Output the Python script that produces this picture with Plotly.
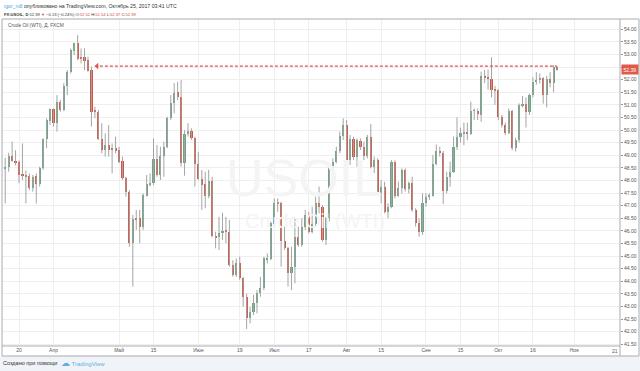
import plotly.graph_objects as go
import pandas as pd

# ---------------- data (FX:USOIL daily) ----------------
OPEN = [48.48, 48.55, 48.97, 48.79, 48.75, 48.22, 48.18, 48.18, 47.69, 48.18,
        47.85, 48.48, 49.63, 50.37, 50.82, 50.27, 51.13, 50.80, 51.75, 52.32,
        53.15, 53.44, 52.91, 52.91, 52.78, 52.38, 50.76, 50.73, 49.63, 49.21,
        49.41, 49.28, 49.28, 49.21, 48.77, 48.09, 47.56, 45.51, 46.50, 46.50,
        46.17, 47.40, 47.86, 47.91, 48.84, 48.22, 48.97, 49.34, 50.47, 51.06,
        51.52, 51.33, 48.68, 49.84, 49.98, 49.67, 48.65, 48.05, 47.86, 47.40,
        47.99, 45.80, 45.74, 45.93, 46.01, 45.97, 44.65, 44.25, 44.71, 44.12,
        43.39, 42.53, 42.80, 43.12, 43.52, 43.72, 44.87, 44.87, 46.27, 47.07,
        47.12, 45.61, 45.31, 44.32, 44.58, 45.77, 45.44, 46.14, 46.63, 45.97,
        46.27, 47.12, 46.96, 45.64, 46.50, 48.58, 48.75, 49.18, 49.77, 50.20,
        48.81, 49.63, 48.92, 49.58, 49.34, 48.97, 49.74, 48.52, 48.81, 47.52,
        47.76, 46.76, 46.96, 48.75, 47.39, 47.69, 48.42, 47.65, 47.89, 46.83,
        46.30, 45.97, 47.09, 47.36, 47.40, 48.65, 49.17, 49.10, 47.60, 48.13,
        48.35, 49.34, 49.71, 49.87, 49.94, 49.84, 50.76, 50.76, 50.60, 52.12,
        52.09, 52.01, 51.59, 51.59, 50.53, 50.20, 49.90, 50.77, 49.28, 49.60,
        50.99, 51.02, 50.73, 51.39, 51.92, 51.99, 52.05, 51.39, 52.01, 51.88,
        52.52]
HIGH = [48.90, 49.10, 49.55, 49.20, 48.80, 49.47, 48.40, 48.28, 48.22, 48.28,
        48.55, 49.67, 50.47, 50.86, 50.86, 51.39, 51.19, 51.86, 52.38, 53.24,
        53.47, 53.77, 53.24, 53.24, 52.91, 52.52, 50.93, 50.80, 50.27, 49.87,
        50.20, 49.47, 49.74, 49.34, 48.95, 48.15, 47.62, 46.63, 46.83, 46.83,
        47.49, 48.22, 48.28, 49.67, 49.41, 49.34, 49.54, 50.53, 51.39, 51.86,
        51.92, 51.99, 50.00, 50.27, 50.07, 49.74, 49.14, 48.42, 48.35, 48.42,
        48.15, 45.97, 46.56, 46.72, 46.56, 46.43, 44.84, 44.91, 44.98, 44.18,
        43.52, 42.99, 43.46, 43.65, 44.18, 44.98, 45.11, 46.37, 47.29, 47.29,
        47.16, 46.17, 45.37, 45.37, 46.50, 46.17, 46.50, 46.83, 46.76, 46.96,
        47.36, 47.76, 47.03, 46.56, 48.68, 48.88, 49.34, 49.94, 50.47, 50.40,
        49.81, 49.74, 49.67, 49.67, 49.54, 49.81, 50.24, 48.95, 48.88, 48.02,
        47.95, 47.10, 48.81, 48.80, 47.95, 48.48, 48.48, 47.95, 48.15, 46.90,
        46.50, 47.49, 47.49, 47.49, 49.01, 49.43, 49.34, 49.17, 48.35, 48.75,
        49.74, 50.51, 50.10, 50.30, 50.30, 51.13, 50.86, 50.86, 52.32, 52.38,
        52.40, 52.89, 51.75, 51.62, 50.60, 50.30, 50.86, 50.80, 49.70, 51.06,
        51.35, 51.30, 51.45, 52.10, 52.30, 52.25, 52.10, 52.15, 52.30, 52.58,
        52.54]
LOW = [47.09, 48.35, 48.75, 48.60, 47.89, 48.02, 47.09, 47.62, 47.56, 47.09,
       47.76, 48.42, 49.28, 50.20, 50.14, 49.94, 50.73, 50.75, 51.39, 52.25,
       52.98, 52.78, 52.65, 52.38, 52.32, 50.14, 50.47, 49.61, 49.08, 48.95,
       48.95, 48.28, 49.08, 48.68, 48.02, 47.36, 45.37, 43.79, 46.04, 45.51,
       46.04, 47.36, 47.76, 47.82, 48.15, 48.02, 48.15, 49.28, 50.40, 50.67,
       51.19, 48.55, 48.19, 49.74, 49.61, 47.76, 48.02, 46.83, 46.90, 47.29,
       45.74, 45.31, 45.24, 45.64, 45.51, 44.58, 44.18, 44.18, 44.05, 42.99,
       42.11, 42.33, 42.66, 42.73, 43.39, 43.65, 44.71, 44.84, 46.17, 46.76,
       44.58, 45.24, 43.79, 43.65, 43.92, 45.37, 45.37, 46.04, 45.90, 45.90,
       46.17, 46.70, 45.57, 45.44, 46.37, 48.28, 48.68, 49.08, 49.61, 48.75,
       48.62, 48.81, 48.55, 49.21, 48.81, 48.88, 48.48, 48.29, 47.50, 47.10,
       46.70, 46.50, 46.90, 47.29, 47.36, 47.49, 47.56, 47.49, 46.76, 46.17,
       45.77, 45.84, 46.96, 47.23, 47.36, 48.60, 48.95, 47.07, 47.49, 47.76,
       48.30, 49.21, 49.50, 49.40, 49.60, 49.81, 50.40, 50.40, 50.33, 51.86,
       51.60, 51.30, 51.00, 50.40, 50.10, 49.80, 49.84, 49.20, 49.15, 49.50,
       50.90, 50.10, 50.60, 51.30, 51.80, 51.85, 51.05, 50.90, 51.70, 51.50,
       52.37]
CLOSE = [48.55, 48.97, 48.79, 48.72, 48.22, 48.18, 48.15, 47.69, 48.15, 47.86,
         48.48, 49.63, 50.40, 50.82, 50.27, 51.13, 50.80, 51.75, 52.32, 53.18,
         53.44, 52.81, 52.81, 52.76, 52.36, 50.73, 50.73, 49.63, 49.21, 49.41,
         49.21, 49.25, 49.21, 48.75, 48.09, 47.56, 45.51, 46.47, 46.47, 46.17,
         47.42, 47.86, 47.91, 48.84, 48.22, 48.97, 49.34, 50.47, 51.06, 51.49,
         51.30, 48.68, 49.84, 49.98, 49.67, 48.65, 48.05, 47.82, 47.40, 47.99,
         45.80, 45.74, 45.93, 46.01, 45.98, 44.65, 44.25, 44.71, 44.12, 43.39,
         42.53, 42.80, 43.12, 43.52, 43.72, 44.91, 44.91, 46.30, 47.09, 47.12,
         45.61, 45.31, 44.32, 44.58, 45.77, 45.44, 46.14, 46.63, 45.97, 46.27,
         47.12, 46.96, 45.64, 46.50, 48.58, 48.75, 49.18, 49.77, 50.20, 48.81,
         49.63, 48.92, 49.61, 49.32, 48.97, 49.74, 48.52, 48.81, 47.52, 47.76,
         46.76, 46.96, 48.75, 47.39, 47.69, 48.42, 47.65, 47.89, 46.83, 46.30,
         45.97, 47.09, 47.36, 47.42, 48.65, 49.17, 49.10, 47.60, 48.13, 48.35,
         49.34, 49.71, 49.87, 49.90, 49.84, 50.76, 50.77, 50.64, 52.15, 52.09,
         52.01, 51.59, 51.56, 50.53, 50.20, 49.90, 50.77, 49.28, 49.60, 50.99,
         51.02, 50.73, 51.39, 51.92, 51.99, 52.05, 51.39, 52.01, 51.88, 52.52,
         52.39]

# trading days shown by the chart (weekdays, no bar on Good Friday)
ALL_DAYS = pd.bdate_range("2017-03-14", "2017-11-21")
ALL_DAYS = ALL_DAYS[ALL_DAYS != pd.Timestamp("2017-04-14")]
N = len(OPEN)
DATES = ALL_DAYS[:N]

TICK_DATES = ["2017-03-20", "2017-04-03", "2017-05-01", "2017-05-15", "2017-06-01",
              "2017-06-19", "2017-07-03", "2017-07-17", "2017-08-01", "2017-08-15",
              "2017-09-01", "2017-09-15", "2017-10-02", "2017-10-16", "2017-11-01"]
TICK_TEXT = ["20", "Апр", "Май", "15", "Июн", "19", "Июл", "17", "Авг", "15",
             "Сен", "15", "Окт", "16", "Ноя"]

LEVEL = 52.54          # dashed horizontal level
LEVEL_FROM = "2017-04-20"

# ---------------- figure ----------------
pos = {d.strftime("%Y-%m-%d"): i for i, d in enumerate(ALL_DAYS)}
idx = list(range(N))
tick_idx = [pos[d] for d in TICK_DATES]

UP = "#6ba583"
DOWN = "#d75442"
WICK = "#a4a4a4"
GRID = "#efefef"
FRAME = "#a9abb0"
FONT = "Liberation Sans"

fig = go.Figure()

wx, wy = [], []
for i in idx:
    wx += [i, i, None]
    wy += [LOW[i], HIGH[i], None]
fig.add_trace(go.Scatter(x=wx, y=wy, mode="lines", line=dict(color=WICK, width=1),
                         hoverinfo="skip", showlegend=False))

base = [min(o, c) for o, c in zip(OPEN, CLOSE)]
height = [max(abs(c - o), 0.035) for o, c in zip(OPEN, CLOSE)]
colors = [UP if c >= o else DOWN for o, c in zip(OPEN, CLOSE)]
fig.add_trace(go.Bar(x=idx, y=height, base=base, width=0.62,
                     marker=dict(color=colors, line=dict(width=0)),
                     customdata=list(zip(OPEN, HIGH, LOW, CLOSE)),
                     hovertemplate="O %{customdata[0]} H %{customdata[1]} L %{customdata[2]} C %{customdata[3]}<extra></extra>",
                     showlegend=False))

# dashed level with arrow
lvl_start = pos[LEVEL_FROM]
fig.add_shape(type="line", xref="x", yref="y", x0=lvl_start, x1=N - 1, y0=LEVEL, y1=LEVEL,
              line=dict(color="#e25353", width=1.3, dash="3px,2px"))
fig.add_annotation(x=lvl_start, y=LEVEL, ax=lvl_start + 1.5, ay=LEVEL, xref="x", yref="y",
                   axref="x", ayref="y", text="", showarrow=True, arrowhead=1,
                   arrowsize=1, arrowwidth=1.1, arrowcolor="#e25353")

X0, X1 = -0.93, 178.26
Y0, Y1 = 41.433, 54.409

W, H = 640, 371
ML, MR, MT, MB = 2, 20, 19, 25
PW, PH = W - ML - MR, H - MT - MB


def px(xp):
    return (xp - ML) / PW


def py(yp):
    return (H - MB - yp) / PH


# footer band
fig.add_shape(type="rect", xref="paper", yref="paper", x0=px(0), x1=px(W), y0=py(356), y1=py(H),
              fillcolor="#f0f3f7", line=dict(width=0), layer="below")
# frame lines
for (x0, y0, x1, y1) in [(2, 19, 639, 19), (2, 19, 2, 356), (639, 19, 639, 356),
                         (2, 356, 639, 356), (2, 346, 620, 346), (620, 19, 620, 356)]:
    fig.add_shape(type="line", xref="paper", yref="paper", x0=px(x0), x1=px(x1),
                  y0=py(y0), y1=py(y1), line=dict(color=FRAME, width=1))

# watermark
fig.add_annotation(x=px(304), y=py(178), xref="paper", yref="paper", text="USOIL",
                   showarrow=False, font=dict(family=FONT, size=52, color="#f4f4f4"))
fig.add_annotation(x=px(315), y=py(221), xref="paper", yref="paper", text="Crude Oil (WTI)",
                   showarrow=False, font=dict(family=FONT, size=20, color="#f4f4f4"))

# header texts
fig.add_annotation(x=px(2), y=py(6), xref="paper", yref="paper", xanchor="left", yanchor="middle",
                   showarrow=False, align="left",
                   text="<span style='color:#4ea3dd'>igor_ndl</span> опубликовано на TradingView.com, Октябрь 25, 2017 03:41 UTC",
                   font=dict(family=FONT, size=5.2, color="#333333"))
fig.add_annotation(x=px(2), y=py(14), xref="paper", yref="paper", xanchor="left", yanchor="middle",
                   showarrow=False, align="left",
                   text=("<b>FX:USOIL, D</b> 52.39 <span style='color:#d9453a'>▼</span> −0.13 (−0.24%) "
                         "O:<span style='color:#d9453a'>52.52</span> H:<span style='color:#d9453a'>52.54</span> "
                         "L:<span style='color:#d9453a'>52.37</span> C:<span style='color:#d9453a'>52.39</span>"),
                   font=dict(family=FONT, size=4.1, color="#333333"))
fig.add_annotation(x=px(6), y=py(25), xref="paper", yref="paper", xanchor="left", yanchor="middle",
                   showarrow=False, text="Crude Oil (WTI), Д, FXCM",
                   font=dict(family=FONT, size=4.8, color="#555555"))

# last price label
fig.add_annotation(x=1.0, y=CLOSE[-1], xref="paper", yref="y", xanchor="left", yanchor="middle",
                   showarrow=False, text=f"{CLOSE[-1]:.2f}", bgcolor="#df5a47", borderpad=1.5,
                   xshift=1, font=dict(family=FONT, size=5, color="white"))

# far-right date label (at the chart edge)
fig.add_annotation(x=1.0, y=py(351), xref="paper", yref="paper", xanchor="right", yanchor="middle",
                   showarrow=False, text="21", font=dict(family=FONT, size=5, color="#555555"))

# footer
fig.add_annotation(x=px(1), y=py(363), xref="paper", yref="paper", xanchor="left", yanchor="middle",
                   showarrow=False, text="Создано при помощи",
                   font=dict(family=FONT, size=5.5, color="#333333"))
fig.add_annotation(x=px(59), y=py(363), xref="paper", yref="paper", xanchor="left", yanchor="middle",
                   showarrow=False,
                   text="<span style='font-family:DejaVu Sans;font-size:9px'>☁</span> TradingView",
                   font=dict(family=FONT, size=6, color="#5fb0e4"))

fig.update_layout(
    width=W, height=H,
    margin=dict(l=ML, r=MR, t=MT, b=MB, autoexpand=False),
    paper_bgcolor="white", plot_bgcolor="white",
    showlegend=False, bargap=0,
    xaxis=dict(range=[X0, X1], tickvals=tick_idx, ticktext=TICK_TEXT, automargin=False,
               showgrid=True, gridcolor=GRID, gridwidth=1, zeroline=False,
               showline=False, ticks="", ticklen=0,
               tickfont=dict(family=FONT, size=5, color="#555555")),
    yaxis=dict(side="right", range=[Y0, Y1], tick0=41.5, dtick=0.5, tickformat=".2f",
               automargin=False,
               showgrid=True, gridcolor=GRID, gridwidth=1, zeroline=False,
               showline=False, ticks="outside", ticklen=2, tickcolor="#999999",
               tickfont=dict(family=FONT, size=5, color="#555555")),
)

fig.write_html("out.html", config={"displayModeBar": False},
               post_script="document.body.style.margin='0px';document.body.style.padding='0px';")
